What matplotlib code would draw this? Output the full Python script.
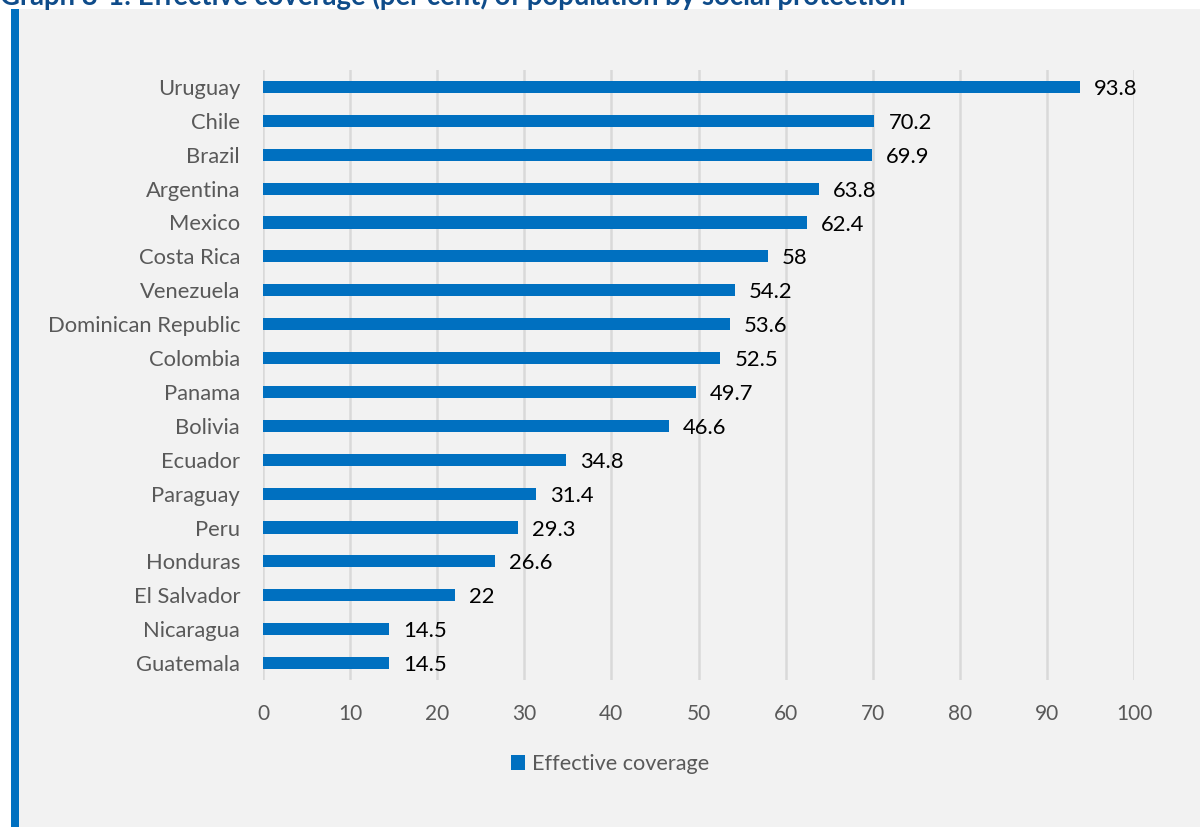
import matplotlib
matplotlib.use("Agg")
import matplotlib.pyplot as plt
from matplotlib.patches import Rectangle

countries = ["Uruguay", "Chile", "Brazil", "Argentina", "Mexico", "Costa Rica",
             "Venezuela", "Dominican Republic", "Colombia", "Panama", "Bolivia",
             "Ecuador", "Paraguay", "Peru", "Honduras", "El Salvador",
             "Nicaragua", "Guatemala"]
coverage = [93.8, 70.2, 69.9, 63.8, 62.4, 58, 54.2, 53.6, 52.5, 49.7, 46.6,
            34.8, 31.4, 29.3, 26.6, 22, 14.5, 14.5]
value_labels = ["93.8", "70.2", "69.9", "63.8", "62.4", "58", "54.2", "53.6",
                "52.5", "49.7", "46.6", "34.8", "31.4", "29.3", "26.6", "22",
                "14.5", "14.5"]
xticks = [0, 10, 20, 30, 40, 50, 60, 70, 80, 90, 100]
title = "Graph 8-1: Effective coverage (per cent) of population by social protection"
series_name = "Effective coverage"

FONT = ["Lato", "DejaVu Sans"]
plt.rcParams['font.family'] = FONT
BLUE = "#0070C0"
BG = "#F2F2F2"
TXT = "#595959"

W, H = 1200, 827
fig = plt.figure(figsize=(W / 100, H / 100), dpi=100)
fig.patch.set_facecolor("white")

# gray panel and blue side bar
fig.patches.append(Rectangle((19 / W, 0), 1 - 19 / W, 1 - 9 / H,
                             transform=fig.transFigure, facecolor=BG,
                             edgecolor="none", zorder=-10))
fig.patches.append(Rectangle((11 / W, 0), 8 / W, 1 - 9 / H,
                             transform=fig.transFigure, facecolor=BLUE,
                             edgecolor="none", zorder=-10))

fig.text(0 / W, 1 - 5 / H, title, ha="left", va="baseline", fontsize=19.8,
         fontweight="bold", color="#0F4C8A")

ax_l, ax_r = 263 / W, 1134 / W
ax_b, ax_t = 1 - 680 / H, 1 - 70 / H
ax = fig.add_axes([ax_l, ax_b, ax_r - ax_l, ax_t - ax_b])
ax.set_facecolor("none")

y = list(range(len(countries)))
bars = ax.barh(y, coverage, height=0.36, color=BLUE, zorder=3,
               label=series_name)
for yi, v, lab in zip(y, coverage, value_labels):
    ax.text(v + 1.6, yi + 0.06, lab, va="center", ha="left", fontsize=15.8,
            color="black", zorder=4)

ax.set_xlim(0, 100)
ax.set_ylim(len(countries) - 0.5, -0.5)
ax.set_xticks(xticks)
ax.set_xticklabels([str(t) for t in xticks], fontsize=15, color=TXT)
ax.set_yticks(y)
ax.set_yticklabels(countries, fontsize=15.8, color=TXT)
ax.tick_params(axis="both", length=0)
ax.tick_params(axis="x", pad=17)
ax.tick_params(axis="y", pad=16.5)
ax.grid(axis="x", color="#D9D9D9", linewidth=1.8, zorder=0)
for s in ax.spines.values():
    s.set_visible(False)

leg = fig.legend(handles=[bars], labels=[series_name], loc="center",
                 bbox_to_anchor=(610 / W, 1 - 764 / H), frameon=False,
                 fontsize=15.6, handlelength=0.65, handleheight=0.65,
                 handletextpad=0.3)
for t in leg.get_texts():
    t.set_color(TXT)

fig.savefig("out.png", dpi=100, facecolor=fig.get_facecolor())
